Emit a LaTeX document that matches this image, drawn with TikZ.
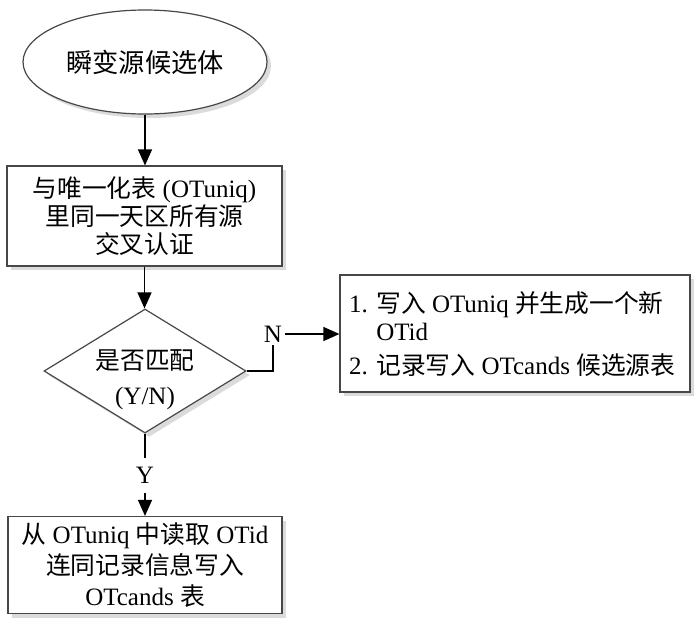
\documentclass[tikz,border=0pt]{standalone}
\usepackage{fontspec}
\setmainfont{Liberation Serif}
\newfontfamily\cjkfont[Scale=0.99]{Noto Sans CJK SC}
\newcommand\zhtxt[1]{{\cjkfont #1}}
\usetikzlibrary{shapes.geometric,arrows.meta,shadows}
\begin{document}
\begin{tikzpicture}[x=1pt,y=1pt,
  fig/.style={draw=black!72, line width=1.2pt, fill=white,
    drop shadow={shadow xshift=4pt, shadow yshift=-4pt, fill=black!14, opacity=1},
    inner sep=0pt},
  conn/.style={line width=1.3pt, draw=black},
  arr/.style={conn, -{Triangle[length=16pt,width=14pt]}},
  txt/.style={font=\fontsize{25}{28}\selectfont, inner sep=0pt},
]
\fill[white] (0,0) rectangle (700,-627);
\useasboundingbox (0,0) rectangle (700,-627);

\node[fig, ellipse, minimum width=244pt, minimum height=104pt, font=\fontsize{26.5}{28}\selectfont] (e) at (145,-62) {\zhtxt{瞬变源候选体}};

\node[fig, rectangle, minimum width=275pt, minimum height=100pt, align=center, txt] (b1) at (144.5,-216)
  {\zhtxt{与唯一化表} (OTuniq)\\ \zhtxt{里同一天区所有源}\\ \zhtxt{交叉认证}};

\node[fig, diamond, aspect=1.63, minimum width=202pt, minimum height=124pt] (d) at (145,-371) {};
\node[txt, align=center] (dt) at (145,-380) {\zhtxt{是否匹配}\\[7pt](Y/N)};

\node[fig, rectangle, minimum width=350pt, minimum height=117pt] (b2) at (515,-333.5) {};
\node[txt, align=left, anchor=west] (b2t) at (349,-334)
  {1. \zhtxt{写入} OTuniq \zhtxt{并生成一个新}\\ \phantom{1. }OTid\\[6pt] 2. \zhtxt{记录写入} OTcands \zhtxt{候选源表}};

\node[fig, rectangle, minimum width=274pt, minimum height=97pt, align=center, font=\fontsize{25}{31}\selectfont] (b3) at (145,-565)
  {\zhtxt{从} OTuniq \zhtxt{中读取} OTid\\ \zhtxt{连同记录信息写入}\\ OTcands \zhtxt{表}};

\node[txt, inner sep=3pt] (N) at (273,-334) {N};
\node[txt, inner xsep=3pt, inner ysep=9pt] (Y) at (145,-475.5) {Y};

\draw[arr] (e.south) -- (e.south |- b1.north);
\draw[arr] (b1.south) -- (b1.south |- d.north);
\draw[conn] (d.east) -| (N.south);
\draw[arr] (N.east) -- (N.east -| b2.west);
\draw[conn] (d.south) -- (Y.north);
\draw[arr] (Y.south) -- (Y.south |- b3.north);
\end{tikzpicture}
\end{document}
